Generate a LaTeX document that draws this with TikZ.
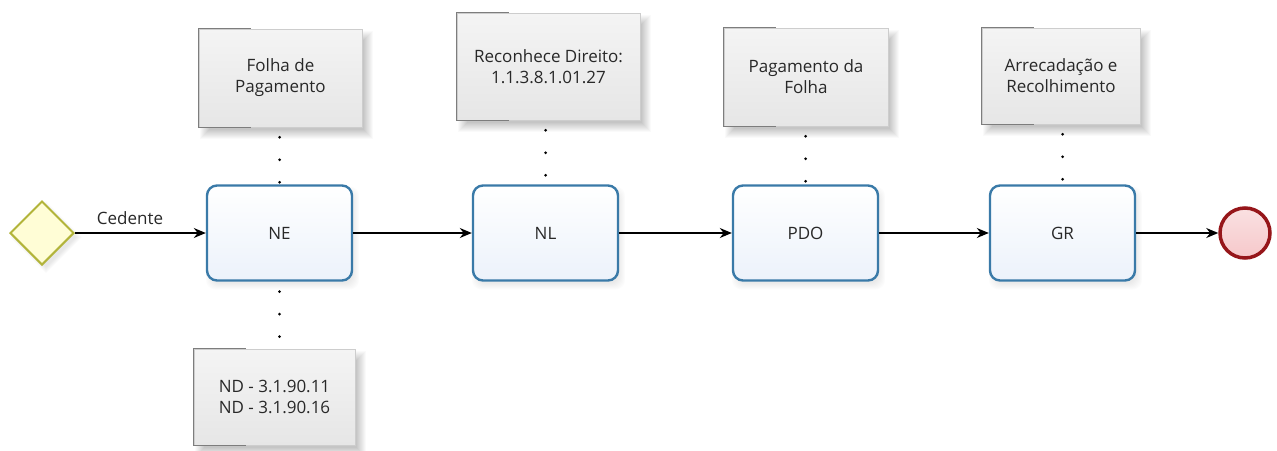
\documentclass[tikz,border=0pt]{standalone}
\usepackage{fontspec}
\setmainfont{Open Sans}
\usetikzlibrary{arrows.meta,shapes.geometric,backgrounds}
\definecolor{taskborder}{RGB}{58,122,168}
\definecolor{taskfill}{RGB}{236,242,251}
\definecolor{gwborder}{RGB}{178,180,58}
\definecolor{gwfill}{RGB}{255,253,214}
\definecolor{endborder}{RGB}{150,22,26}
\definecolor{endfill}{RGB}{246,200,202}
\definecolor{annborder}{RGB}{205,205,205}
\definecolor{annbracket}{RGB}{125,125,125}
\definecolor{anntop}{RGB}{244,244,244}
\definecolor{annbot}{RGB}{230,230,230}
\definecolor{txt}{RGB}{40,40,40}
\begin{document}
\begin{tikzpicture}[x=1pt,y=1pt,
  font=\fontsize{17}{21}\selectfont,
  every node/.style={text=txt},
  taskbox/.style={rectangle, rounded corners=10pt, draw=taskborder, line width=2.4pt,
    minimum width=145pt, minimum height=95pt, top color=white, bottom color=taskfill},
  gateway/.style={diamond, aspect=1, inner sep=0pt, minimum size=64pt, draw=gwborder,
    line width=2pt, fill=gwfill},
  endev/.style={circle, inner sep=0pt, minimum size=50pt, draw=endborder, line width=3.5pt,
    top color=endfill!55, bottom color=endfill},
  annot/.style={rectangle, draw=annborder, line width=0.5pt, align=center,
    top color=anntop, bottom color=annbot},
  bracket/.style={draw=annbracket, line width=0.7pt},
  flow/.style={draw=black, line width=1.3pt, -{Stealth[length=12pt,width=10pt]}},
  assoc/.style={draw=black, line width=3pt, line cap=round, dash pattern=on 0pt off 22.5pt, dash phase=12.5pt}
]
\useasboundingbox (0,0) rectangle (1277,-450);

% gateway and end event
\node[gateway] (gw) at (42,-233) {};
\node[endev] (end) at (1245,-233) {};

% tasks
\node[taskbox] (ne)  at (279.5,-233) {NE};
\node[taskbox] (nl)  at (545.5,-233) {NL};
\node[taskbox] (pdo) at (805.5,-233) {PDO};
\node[taskbox] (gr)  at (1062.5,-233) {GR};

% annotations
\node[annot, minimum width=163pt, minimum height=98pt] (a1) at (280.5,-78) {Folha de\\Pagamento};
\node[annot, minimum width=183pt, minimum height=107pt] (a2) at (548.5,-66.5) {Reconhece Direito:\\1.1.3.8.1.01.27};
\node[annot, minimum width=164pt, minimum height=98pt] (a3) at (806,-77) {Pagamento da\\Folha};
\node[annot, minimum width=158pt, minimum height=96pt] (a4) at (1061,-76) {Arrecadação e\\Recolhimento};
\node[annot, minimum width=161pt, minimum height=96pt] (a5) at (274.5,-397) {ND - 3.1.90.11\\ND - 3.1.90.16};

\foreach \a in {a1,a2,a3,a4,a5}{
  \draw[bracket] ([xshift=52pt]\a.north west) -- (\a.north west) -- (\a.south west) -- ([xshift=52pt]\a.south west);
}

% soft shadows (opaque layers on white)
\begin{scope}[on background layer]
  \foreach \a in {a1,a2,a3,a4,a5}{
    \foreach \k in {-5,...,4}{
      \pgfmathsetmacro{\p}{2+(\k+5)*2.3}
      \fill[black!\p] ([shift={(6+\k,-7-\k)}]\a.north west) rectangle ([shift={(6-\k,-7+\k)}]\a.south east);
    }
  }
  \foreach \t in {ne,nl,pdo,gr}{
    \foreach \k in {-3,...,3}{
      \pgfmathsetmacro{\p}{1+(\k+3)*1.2}
      \fill[black!\p, rounded corners=10pt] ([shift={(3+\k,-5-\k)}]\t.north west) rectangle ([shift={(3-\k,-5+\k)}]\t.south east);
    }
  }
  \foreach \k in {-3,...,3}{
    \pgfmathsetmacro{\p}{1+(\k+3)*1.4}
    \fill[black!\p] ([shift={(4,-4-\k)}]gw.north) -- ([shift={(4-\k,-4)}]gw.east) -- ([shift={(4,-4+\k)}]gw.south) -- ([shift={(4+\k,-4)}]gw.west) -- cycle;
  }
\end{scope}

% associations
\draw[assoc] (a1.south -| ne.north) -- (ne.north);
\draw[assoc] (a2.south -| nl.north) -- (nl.north);
\draw[assoc] (a3.south -| pdo.north) -- (pdo.north);
\draw[assoc] (a4.south -| gr.north) -- (gr.north);
\draw[assoc] (ne.south) -- (ne.south |- a5.north);

% sequence flows
\draw[flow] (gw.east) -- node[pos=0.42, above=4pt] {Cedente} (ne.west);
\draw[flow] (ne.east) -- (nl.west);
\draw[flow] (nl.east) -- (pdo.west);
\draw[flow] (pdo.east) -- (gr.west);
\draw[flow] (gr.east) -- (end.west);
\end{tikzpicture}
\end{document}
